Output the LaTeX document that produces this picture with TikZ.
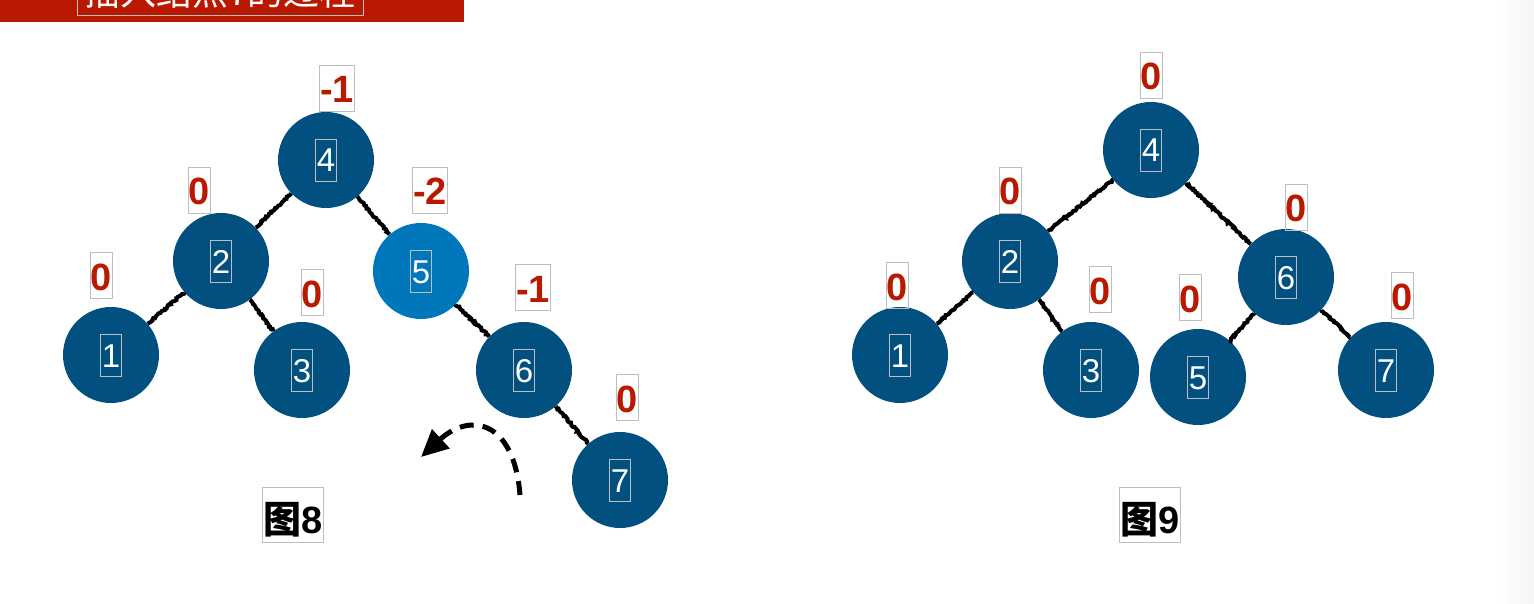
\documentclass[tikz,border=0pt]{standalone}
\usepackage{fontspec}
\setmainfont{Liberation Sans}
\newfontfamily\cjk{Noto Sans CJK SC}
\usetikzlibrary{positioning,arrows.meta}
\usetikzlibrary{decorations.pathmorphing}
\definecolor{nodeblue}{RGB}{2,80,128}
\definecolor{hotblue}{RGB}{0,119,187}
\definecolor{labelred}{RGB}{185,25,0}
\definecolor{boxgray}{RGB}{190,190,190}
\tikzset{
  treenode/.style={circle, fill=nodeblue, minimum size=96pt, inner sep=0pt},
  numtext/.style={draw=boxgray, line width=0.8pt, text=white,
    font=\fontsize{33}{36}\selectfont, inner xsep=1.5pt, inner ysep=0pt,
    text height=33pt, text depth=9pt},
  bal/.style={draw=boxgray, line width=0.8pt, text=labelred,
    font=\fontsize{38}{40}\selectfont\bfseries, inner xsep=0.5pt, inner ysep=0pt,
    text height=38pt, text depth=8pt},
  caption/.style={draw=boxgray, line width=0.8pt,
    font=\fontsize{38}{42}\selectfont\bfseries, inner xsep=1pt, inner ysep=0pt,
    text height=46pt, text depth=9pt},
  edge/.style={draw=black, line width=4pt, decorate,
    decoration={random steps, segment length=1.5pt, amplitude=0.9pt}}
}

\begin{document}
\begin{tikzpicture}[x=1pt, y=-1pt]
  \useasboundingbox (0,0) rectangle (1534,604);
  \clip (0,0) rectangle (1534,604);
  \shade[left color=white, right color=black!4] (1500,0) rectangle (1534,604);
  %% banner
  \fill[labelred] (0,0) rectangle (464,22);
  \node[draw=boxgray, line width=0.8pt, text=white, font=\cjk\fontsize{36}{40}\selectfont,
    inner xsep=7pt, inner ysep=0pt, text depth=10pt, anchor=south] (title) at (220,16) {插入结点7的过程};
  %%
  %% before rotation
  \node[treenode, label={[numtext]center:4}] (L4) at (326,160) {};
  \node[treenode, label={[numtext]center:2}] (L2) at (221,261) {};
  \node[treenode, label={[numtext]center:1}] (L1) at (111,355) {};
  \node[treenode, label={[numtext]center:3}] (L3) at (302,370) {};
  \node[treenode, fill=hotblue, label={[numtext]center:5}] (L5) at (421,271) {};
  \node[treenode, label={[numtext]center:6}] (L6) at (524,370) {};
  \node[treenode, label={[numtext]center:7}] (L7) at (620,480) {};
  \draw[edge] (L4) -- (L2);
  \draw[edge] (L2) -- (L1);
  \draw[edge] (L2) -- (L3);
  \draw[edge] (L4) -- (L5);
  \draw[edge] (L5) -- (L6);
  \draw[edge] (L6) -- (L7);
  %%
  \node[bal] (bL4) at (337,88) {-1};
  \node[bal] (bL2) at (199,190) {0};
  \node[bal] (bL5) at (430,190) {-2};
  \node[bal] (bL1) at (101,275) {0};
  \node[bal] (bL3) at (312,292) {0};
  \node[bal] (bL6) at (533,287) {-1};
  \node[bal] (bL7) at (627,397) {0};
  %%
  \coordinate (rotS) at (520,495);
  \coordinate (rotE) at (421,457);
  \draw[line width=5pt, dash pattern=on 14pt off 9pt, -{Triangle[length=27pt,width=25pt]}]
    (rotS) .. controls (514,420) and (470,412) .. (rotE);
  \node[caption] (fig8) at (293,515) {{\cjk 图}8};
  %%
  %% after rotation
  \node[treenode, label={[numtext]center:4}] (R4) at (1151,150) {};
  \node[treenode, label={[numtext]center:2}] (R2) at (1010,261) {};
  \node[treenode, label={[numtext]center:1}] (R1) at (900,355) {};
  \node[treenode, label={[numtext]center:3}] (R3) at (1091,370) {};
  \node[treenode, label={[numtext]center:6}] (R6) at (1286,277) {};
  \node[treenode, label={[numtext]center:5}] (R5) at (1198,377) {};
  \node[treenode, label={[numtext]center:7}] (R7) at (1386,370) {};
  \draw[edge] (R4) -- (R2);
  \draw[edge] (R2) -- (R1);
  \draw[edge] (R2) -- (R3);
  \draw[edge] (R4) -- (R6);
  \draw[edge] (R6) -- (R5);
  \draw[edge] (R6) -- (R7);
  %%
  \node[bal] (bR4) at (1151,75) {0};
  \node[bal] (bR2) at (1010,190) {0};
  \node[bal] (bR6) at (1296,207) {0};
  \node[bal] (bR1) at (897,285) {0};
  \node[bal] (bR3) at (1100,289) {0};
  \node[bal] (bR5) at (1190,297) {0};
  \node[bal] (bR7) at (1402,295) {0};
  \node[caption] (fig9) at (1150,515) {{\cjk 图}9};
\end{tikzpicture}
\end{document}
